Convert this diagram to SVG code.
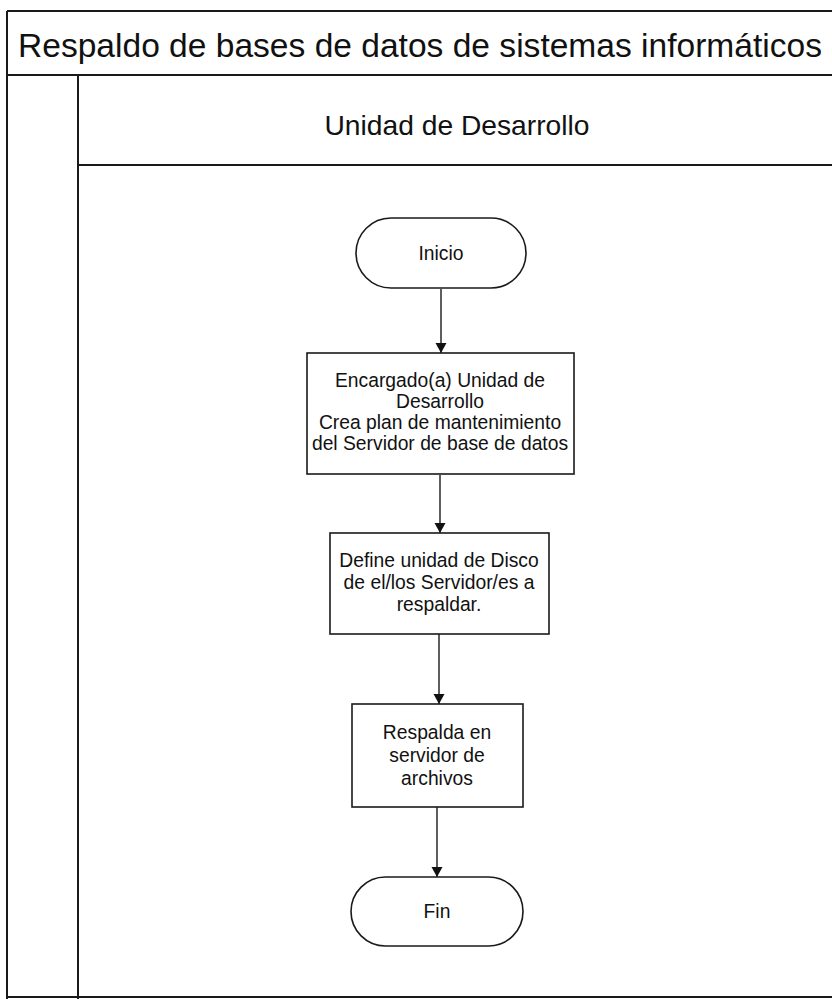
<svg xmlns="http://www.w3.org/2000/svg" width="832" height="999" viewBox="0 0 832 999">
  <style>
    .frame { fill: none; stroke: #1a1a1a; stroke-width: 2; }
    .shape { fill: #ffffff; stroke: #1a1a1a; stroke-width: 1.6; }
    .edge { fill: none; stroke: #1a1a1a; stroke-width: 1.4; marker-end: url(#arrow); }
    .title { font-family: "Liberation Sans", Arial, sans-serif; font-size: 33px; fill: #111; }
    .lane { font-family: "Liberation Sans", Arial, sans-serif; font-size: 28px; fill: #111; text-anchor: middle; }
    .label { font-family: "Liberation Sans", Arial, sans-serif; font-size: 19.3px; fill: #111; text-anchor: middle; }
  </style>
  <defs>
    <marker id="arrow" markerWidth="10" markerHeight="14" refX="10" refY="7" orient="auto" markerUnits="userSpaceOnUse">
      <path d="M0,1.5 L10,7 L0,12.5 Z" fill="#111"/>
    </marker>
  </defs>

  <rect width="832" height="999" fill="#ffffff"/>

  <!-- Pool frame and lane -->
  <g id="pool">
    <line class="frame" x1="7" y1="11" x2="832" y2="11"/>
    <line class="frame" x1="7" y1="11" x2="7" y2="999"/>
    <line class="frame" x1="7" y1="75" x2="832" y2="75"/>
    <line class="frame" x1="78" y1="75" x2="78" y2="999"/>
    <line class="frame" x1="78" y1="165" x2="832" y2="165"/>
    <line class="frame" x1="7" y1="997" x2="832" y2="997"/>
    <text class="title" x="18" y="57" textLength="804" lengthAdjust="spacingAndGlyphs">Respaldo de bases de datos de sistemas informáticos</text>
    <text class="lane" x="457" y="135" textLength="265" lengthAdjust="spacingAndGlyphs">Unidad de Desarrollo</text>
  </g>

  <!-- Connectors -->
  <g id="connectors">
    <line class="edge" x1="441" y1="289" x2="441" y2="353"/>
    <line class="edge" x1="440" y1="475" x2="440" y2="533"/>
    <line class="edge" x1="439" y1="634" x2="439" y2="704"/>
    <line class="edge" x1="437" y1="807" x2="437" y2="877"/>
  </g>

  <!-- Nodes -->
  <g id="inicio">
    <rect class="shape" x="356" y="218" width="170" height="70" rx="35" ry="35"/>
    <text class="label" x="441" y="260">Inicio</text>
  </g>

  <g id="crea-plan">
    <rect class="shape" x="307" y="353" width="267" height="121"/>
    <text class="label" x="440" y="387">Encargado(a) Unidad de</text>
    <text class="label" x="440" y="408">Desarrollo</text>
    <text class="label" x="440" y="429">Crea plan de mantenimiento</text>
    <text class="label" x="440" y="450">del Servidor de base de datos</text>
  </g>

  <g id="define-disco">
    <rect class="shape" x="330" y="533" width="219" height="101"/>
    <text class="label" x="439" y="567">Define unidad de Disco</text>
    <text class="label" x="439" y="589">de el/los Servidor/es a</text>
    <text class="label" x="439" y="611">respaldar.</text>
  </g>

  <g id="respalda">
    <rect class="shape" x="352" y="704" width="171" height="103"/>
    <text class="label" x="437" y="739">Respalda en</text>
    <text class="label" x="437" y="762">servidor de</text>
    <text class="label" x="437" y="785">archivos</text>
  </g>

  <g id="fin">
    <rect class="shape" x="351" y="877" width="172" height="69" rx="34.5" ry="34.5"/>
    <text class="label" x="437" y="918">Fin</text>
  </g>
</svg>
